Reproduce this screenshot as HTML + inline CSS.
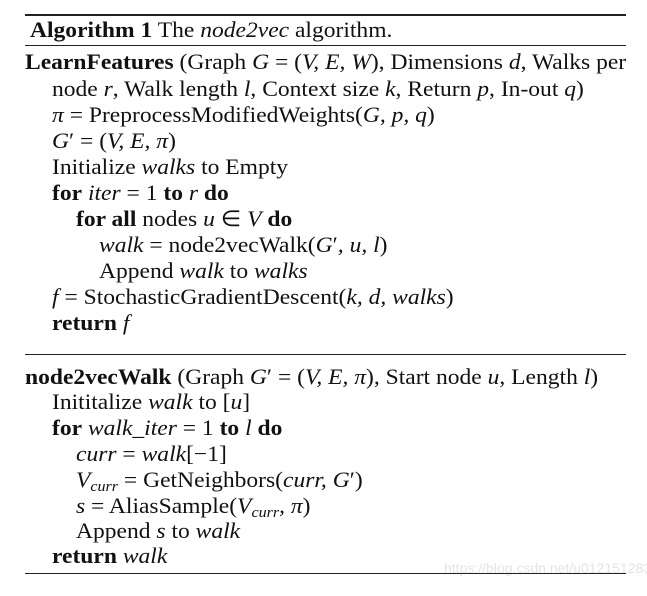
<!DOCTYPE html>
<html><head><meta charset="utf-8"><style>
body{margin:0;width:647px;height:596px;background:#fff;position:relative;overflow:hidden;font-family:"Liberation Serif",serif;font-size:22px;color:#111}
.l{position:absolute;white-space:nowrap;line-height:24px;transform:scaleX(1.07);transform-origin:0 50%}
.r{position:absolute;left:25px;width:601px;background:#222}
i{font-style:italic}
b{font-weight:bold}
sub{font-size:15px;vertical-align:-4px;line-height:0}
.wm{position:absolute;left:444px;top:560px;font-family:"Liberation Sans",sans-serif;font-size:14px;color:#e4e4e4}
</style></head><body>
<div class="r" style="top:14px;height:2px"></div>
<div class="l" style="left:30px;top:18px"><b>Algorithm 1</b> The <i>node2vec</i> algorithm.</div>
<div class="r" style="top:45px;height:1px"></div>
<div class="l" style="left:25px;top:50px"><b>LearnFeatures</b> (Graph <i>G</i> = (<i>V, E, W</i>), Dimensions <i>d</i>, Walks per</div>
<div class="l" style="left:52px;top:77px">node <i>r</i>, Walk length <i>l</i>, Context size <i>k</i>, Return <i>p</i>, In-out <i>q</i>)</div>
<div class="l" style="left:52px;top:103px"><i>π</i> = PreprocessModifiedWeights(<i>G, p, q</i>)</div>
<div class="l" style="left:52px;top:129px"><i>G</i>′ = (<i>V, E, π</i>)</div>
<div class="l" style="left:52px;top:155px">Initialize <i>walks</i> to Empty</div>
<div class="l" style="left:52px;top:181px"><b>for</b> <i>iter</i> = 1 <b>to</b> <i>r</i> <b>do</b></div>
<div class="l" style="left:76px;top:207px"><b>for all</b> nodes <i>u</i> ∈ <i>V</i> <b>do</b></div>
<div class="l" style="left:99px;top:233px"><i>walk</i> = node2vecWalk(<i>G</i>′<i>, u, l</i>)</div>
<div class="l" style="left:99px;top:259px">Append <i>walk</i> to <i>walks</i></div>
<div class="l" style="left:52px;top:285px"><i>f</i> = StochasticGradientDescent(<i>k, d, walks</i>)</div>
<div class="l" style="left:52px;top:311px"><b>return</b> <i>f</i></div>
<div class="r" style="top:354px;height:1px"></div>
<div class="l" style="left:25px;top:365px"><b>node2vecWalk</b> (Graph <i>G</i>′ = (<i>V, E, π</i>), Start node <i>u</i>, Length <i>l</i>)</div>
<div class="l" style="left:52px;top:390px">Inititalize <i>walk</i> to [<i>u</i>]</div>
<div class="l" style="left:52px;top:416px"><b>for</b> <i>walk_iter</i> = 1 <b>to</b> <i>l</i> <b>do</b></div>
<div class="l" style="left:76px;top:442px"><i>curr</i> = <i>walk</i>[−1]</div>
<div class="l" style="left:76px;top:468px"><i>V<sub>curr</sub></i> = GetNeighbors(<i>curr, G</i>′)</div>
<div class="l" style="left:76px;top:494px"><i>s</i> = AliasSample(<i>V<sub>curr</sub>, π</i>)</div>
<div class="l" style="left:76px;top:519px">Append <i>s</i> to <i>walk</i></div>
<div class="l" style="left:52px;top:544px"><b>return</b> <i>walk</i></div>
<div class="wm">https://blog.csdn.net/u012151283</div>
<div class="r" style="top:573px;height:1px"></div>
</body></html>
